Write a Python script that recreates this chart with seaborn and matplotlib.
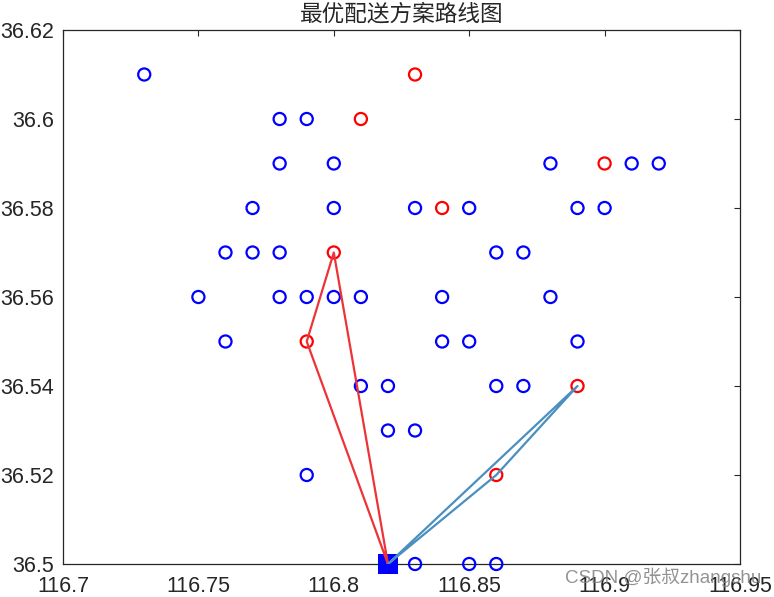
import pandas as pd
import matplotlib
matplotlib.use('Agg')
import matplotlib.pyplot as plt
import seaborn as sns

# customer points
blue_x = [116.73, 116.78, 116.79, 116.78, 116.80, 116.88, 116.91, 116.92,
          116.77, 116.80, 116.83, 116.85, 116.89, 116.90,
          116.76, 116.77, 116.78, 116.86, 116.87,
          116.75, 116.78, 116.79, 116.80, 116.81, 116.84, 116.88,
          116.76, 116.84, 116.85, 116.89,
          116.81, 116.82, 116.86, 116.87,
          116.82, 116.83, 116.79, 116.83, 116.85, 116.86]
blue_y = [36.61, 36.60, 36.60, 36.59, 36.59, 36.59, 36.59, 36.59,
          36.58, 36.58, 36.58, 36.58, 36.58, 36.58,
          36.57, 36.57, 36.57, 36.57, 36.57,
          36.56, 36.56, 36.56, 36.56, 36.56, 36.56, 36.56,
          36.55, 36.55, 36.55, 36.55,
          36.54, 36.54, 36.54, 36.54,
          36.53, 36.53, 36.52, 36.50, 36.50, 36.50]
red_x = [116.83, 116.81, 116.90, 116.84, 116.80, 116.79, 116.89, 116.86]
red_y = [36.61, 36.60, 36.59, 36.58, 36.57, 36.55, 36.54, 36.52]

depot_x = [116.82]
depot_y = [36.50]

# routes
route1_x = [116.82, 116.79, 116.80, 116.82]
route1_y = [36.50, 36.55, 36.57, 36.50]
route2_x = [116.82, 116.86, 116.89, 116.82]
route2_y = [36.50, 36.52, 36.54, 36.50]

x_ticks = [116.7, 116.75, 116.8, 116.85, 116.9, 116.95]
x_labels = ['116.7', '116.75', '116.8', '116.85', '116.9', '116.95']
y_ticks = [36.5, 36.52, 36.54, 36.56, 36.58, 36.6, 36.62]
y_labels = ['36.5', '36.52', '36.54', '36.56', '36.58', '36.6', '36.62']

sns.set_style('white')
plt.rcParams['font.family'] = ['Liberation Sans', 'Noto Sans CJK SC', 'DejaVu Sans']

fig = plt.figure(figsize=(7.74, 5.97), dpi=100)
ax = fig.add_axes([63 / 774, 1 - 564 / 597, 677 / 774, 534 / 597])

df_blue = pd.DataFrame({'x': blue_x, 'y': blue_y})
df_red = pd.DataFrame({'x': red_x, 'y': red_y})
df_depot = pd.DataFrame({'x': depot_x, 'y': depot_y})

sns.scatterplot(data=df_blue, x='x', y='y', ax=ax, marker='o', s=76, facecolor='none',
                edgecolor='#0000ff', linewidth=1.6, clip_on=False, zorder=3)
sns.scatterplot(data=df_red, x='x', y='y', ax=ax, marker='o', s=76, facecolor='none',
                edgecolor='#ff0000', linewidth=1.6, clip_on=False, zorder=3)
sns.scatterplot(data=df_depot, x='x', y='y', ax=ax, marker='s', s=207, color='#0000ff',
                linewidth=0, clip_on=False, zorder=3)

sns.lineplot(x=route1_x, y=route1_y, ax=ax, sort=False, estimator=None, color='#ee3338',
             linewidth=1.6, zorder=4)
sns.lineplot(x=route2_x, y=route2_y, ax=ax, sort=False, estimator=None, color='#4a8fc0',
             linewidth=1.6, zorder=4)

ax.set_xlim(116.7, 116.95)
ax.set_ylim(36.5, 36.62)
ax.set_xticks(x_ticks)
ax.set_xticklabels(x_labels)
ax.set_yticks(y_ticks)
ax.set_yticklabels(y_labels)
ax.set_xlabel('')
ax.set_ylabel('')
ax.tick_params(direction='in', length=4.5, width=0.8, color='#262626', top=True, right=True,
               labelsize=15.5, labelcolor='#262626')
ax.tick_params(axis='x', pad=9)
ax.tick_params(axis='y', pad=6.5)
for spine in ax.spines.values():
    spine.set_visible(True)
    spine.set_color('#262626')
    spine.set_linewidth(0.9)

ax.set_title('最优配送方案路线图', fontsize=16.3, color='#262626', pad=7,
             family=['Noto Sans CJK SC', 'DejaVu Sans'])

# watermark
fig.text(565 / 774, 1 - 577 / 597, 'CSDN @张叔zhangshu', fontsize=13.5, color='#808080',
         alpha=0.85, va='center', ha='left')

fig.savefig('out.png', dpi=100)
